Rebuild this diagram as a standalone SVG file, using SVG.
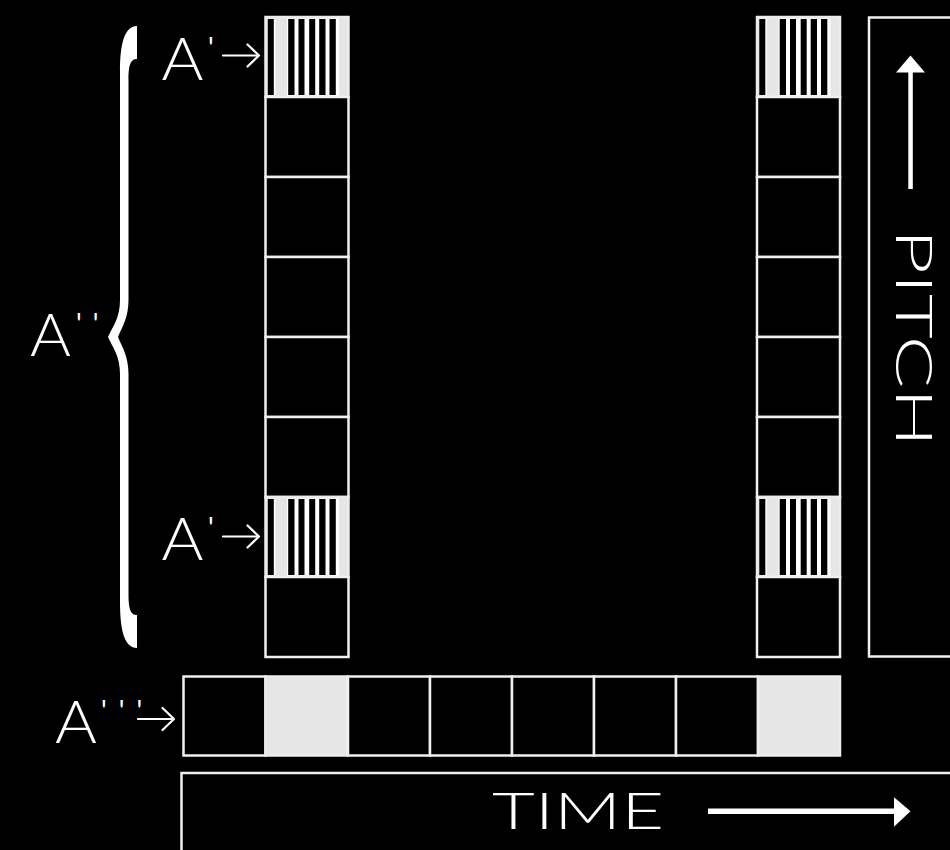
<svg xmlns="http://www.w3.org/2000/svg" xmlns:xlink="http://www.w3.org/1999/xlink" width="950" height="850" viewBox="0 0 950 850">
  <style>
    .cell { fill: #000; stroke: #f0f0f0; stroke-width: 2.5; }
    .gray { fill: #e6e6e6; stroke: #ececec; stroke-width: 2.5; }
    .lbl { font-family: "Lato", "Liberation Sans", sans-serif; font-weight: 300; fill: #fff; }
    .prime { font-weight: 400; font-size: 28px; }
    .arr { fill: none; stroke: #fff; stroke-width: 2.2; stroke-linecap: round; stroke-linejoin: round; }
  </style>
  <defs>
    <g id="striped">
      <rect x="0" y="0" width="83" height="80" class="gray" stroke="#f0f0f0"/>
      <rect x="21.5" y="1.5" width="52" height="77" fill="#fff"/>
      <rect x="8.3" y="1.5" width="1.6" height="77" fill="#fff"/>
      <rect x="2.3" y="2" width="6" height="76" fill="#000"/>
      <rect x="22.7" y="2" width="6.3" height="76" fill="#000"/>
      <rect x="33" y="2" width="6" height="76" fill="#000"/>
      <rect x="43.7" y="2" width="6" height="76" fill="#000"/>
      <rect x="53.7" y="2" width="6.3" height="76" fill="#000"/>
      <rect x="64" y="2" width="6.3" height="76" fill="#000"/>
    </g>
  </defs>
  <rect x="0" y="0" width="950" height="850" fill="#000"/>

  <g id="left-column">
    <use xlink:href="#striped" x="265.5" y="17"/>
    <rect class="cell" x="265.5" y="97" width="83" height="80"/>
    <rect class="cell" x="265.5" y="177" width="83" height="80"/>
    <rect class="cell" x="265.5" y="257" width="83" height="80"/>
    <rect class="cell" x="265.5" y="337" width="83" height="80"/>
    <rect class="cell" x="265.5" y="417" width="83" height="80"/>
    <use xlink:href="#striped" x="265.5" y="497"/>
    <rect class="cell" x="265.5" y="577" width="83" height="80"/>
  </g>

  <g id="right-column">
    <use xlink:href="#striped" x="757" y="17"/>
    <rect class="cell" x="757" y="97" width="83" height="80"/>
    <rect class="cell" x="757" y="177" width="83" height="80"/>
    <rect class="cell" x="757" y="257" width="83" height="80"/>
    <rect class="cell" x="757" y="337" width="83" height="80"/>
    <rect class="cell" x="757" y="417" width="83" height="80"/>
    <use xlink:href="#striped" x="757" y="497"/>
    <rect class="cell" x="757" y="577" width="83" height="80"/>
  </g>

  <g id="bottom-row">
    <rect class="cell" x="183.5" y="676.5" width="82" height="79"/>
    <rect class="gray" x="265.5" y="676.5" width="82" height="79"/>
    <rect class="cell" x="348" y="676.5" width="82" height="79"/>
    <rect class="cell" x="430" y="676.5" width="82" height="79"/>
    <rect class="cell" x="512" y="676.5" width="82" height="79"/>
    <rect class="cell" x="594" y="676.5" width="82" height="79"/>
    <rect class="cell" x="676" y="676.5" width="82" height="79"/>
    <rect class="gray" x="758" y="676.5" width="82" height="79"/>
  </g>

  <g id="pitch-axis">
    <rect class="cell" x="869" y="17.5" width="100" height="639"/>
    <rect x="908.3" y="70" width="4.5" height="119" fill="#fff"/>
    <polygon points="910.5,55.5 896,72.5 925,72.5" fill="#fff"/>
    <text class="lbl" font-size="52" transform="translate(896,229) rotate(90)" textLength="218" lengthAdjust="spacingAndGlyphs">PITCH</text>
  </g>

  <g id="time-axis">
    <rect class="cell" x="181.5" y="773" width="800" height="100"/>
    <text class="lbl" x="492" y="829" font-size="52" textLength="172" lengthAdjust="spacingAndGlyphs">TIME</text>
    <rect x="708" y="808.5" width="188" height="5.5" fill="#fff"/>
    <polygon points="910.5,811.3 894,797.3 894,826.7" fill="#fff"/>
  </g>

  <g id="brace">
    <path fill="#fff" d="M137,26 C125,26 120,42 120,72 L120,300 C120,318 113,326 108,337 C113,348 120,356 120,374 L120,602 C120,632 125,648 137,648 L137,615 C131,615 128.5,610 128.5,594 L128.5,374 C128.5,356 122,347 118,337 C122,327 128.5,318 128.5,300 L128.5,80 C128.5,64 131,59 137,59 Z"/>
  </g>

  <g id="labels">
    <text class="lbl" x="161.5" y="80" font-size="60"><tspan textLength="42" lengthAdjust="spacingAndGlyphs">A</tspan><tspan class="prime" x="208" y="58">'</tspan></text>
    <text class="lbl" x="161.5" y="560" font-size="60"><tspan textLength="42" lengthAdjust="spacingAndGlyphs">A</tspan><tspan class="prime" x="208" y="538">'</tspan></text>
    <text class="lbl" x="30" y="356" font-size="60"><tspan textLength="41" lengthAdjust="spacingAndGlyphs">A</tspan><tspan class="prime" x="76" y="334" letter-spacing="11">''</tspan></text>
    <text class="lbl" x="55" y="743" font-size="60"><tspan textLength="42" lengthAdjust="spacingAndGlyphs">A</tspan><tspan class="prime" x="101" y="721" letter-spacing="12">'''</tspan></text>
  </g>

  <g id="connectors">
    <path class="arr" d="M223,55.5 L259,55.5 M247.5,44.5 L259,55.5 L247.5,66.5"/>
    <path class="arr" d="M223,536.5 L259,536.5 M247.5,525.5 L259,536.5 L247.5,547.5"/>
    <path class="arr" d="M138,719 L174,719 M162.5,708 L174,719 L162.5,730"/>
  </g>
</svg>
